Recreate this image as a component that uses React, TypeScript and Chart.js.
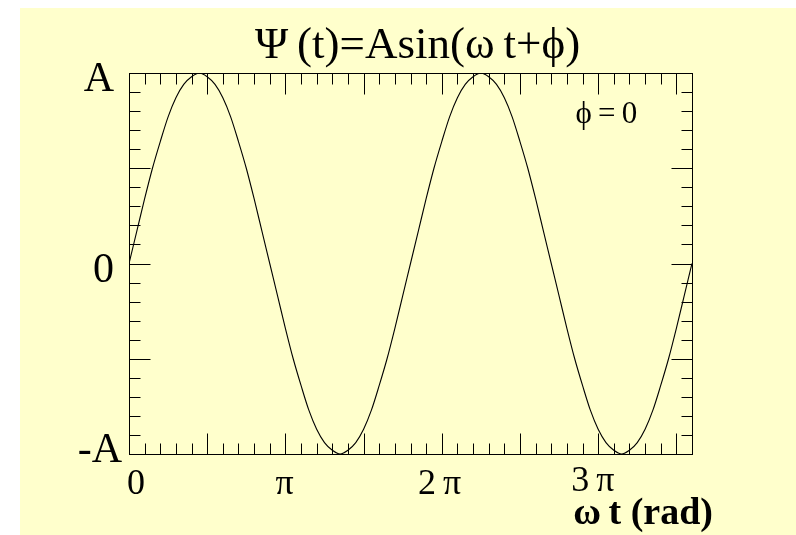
import React, { useEffect, useRef } from "react";
import { Chart, registerables } from "chart.js";

Chart.register(...registerables);

// Phase ωt in degrees, sampled every 10° over two full periods
const omegaT = [
  0, 10, 20, 30, 40, 50, 60, 70, 80, 90, 100, 110, 120, 130, 140, 150, 160, 170,
  180, 190, 200, 210, 220, 230, 240, 250, 260, 270, 280, 290, 300, 310, 320, 330, 340, 350,
  360, 370, 380, 390, 400, 410, 420, 430, 440, 450, 460, 470, 480, 490, 500, 510, 520, 530,
  540, 550, 560, 570, 580, 590, 600, 610, 620, 630, 640, 650, 660, 670, 680, 690, 700, 710,
  720,
];

// Ψ(t) in units of the amplitude A
const psi = [
  0, 0.17, 0.34, 0.5, 0.64, 0.77, 0.87, 0.94, 0.98, 1.0, 0.98, 0.94, 0.87, 0.77, 0.64, 0.5, 0.34, 0.17,
  0, -0.17, -0.34, -0.5, -0.64, -0.77, -0.87, -0.94, -0.98, -1.0, -0.98, -0.94, -0.87, -0.77, -0.64, -0.5, -0.34, -0.17,
  0, 0.17, 0.34, 0.5, 0.64, 0.77, 0.87, 0.94, 0.98, 1.0, 0.98, 0.94, 0.87, 0.77, 0.64, 0.5, 0.34, 0.17,
  0, -0.17, -0.34, -0.5, -0.64, -0.77, -0.87, -0.94, -0.98, -1.0, -0.98, -0.94, -0.87, -0.77, -0.64, -0.5, -0.34, -0.17,
  0,
];

// Axis ranges and tick spacing
const xRange = [0, 720];
const xMinorStep = 20;
const xMajorStep = 100;
const yRange = [-1, 1];
const yMinorDivs = 20; // 0.1 A per minor division
const yMajorEvery = 5; // a long tick every 0.5 A

// Hand-placed labels along ωt (in degrees) and on the amplitude axis
const xTickLabels = ["0", "π", "2\u2009π", "3\u2009π"];
const xTickLabelAt = [0, 190, 372, 568];
const yTickLabels = ["A", "0", "-A"];
const yTickValues = [1, 0, -1];

const titleText = "Ψ\u2009(t)=Asin(ω\u2009t+ϕ)";
const phaseText = "ϕ\u2009=\u20090";
const xAxisTitle = "ω\u2009t (rad)";

const SERIF = "'Liberation Serif', 'Times New Roman', Times, serif";
const PAPER = "#ffffcc";

const framePlugin = {
  id: "rootFrame",
  beforeDraw(chart: any) {
    const { ctx, width, height } = chart;
    ctx.save();
    ctx.fillStyle = PAPER;
    ctx.fillRect(0, 0, width, height);
    ctx.restore();
  },
  afterDraw(chart: any) {
    const { ctx, chartArea: a } = chart;
    const xs = chart.scales.x;
    const ys = chart.scales.y;
    const L = Math.round(a.left) + 0.5;
    const R = Math.round(a.right) + 0.5;
    const T = Math.round(a.top) + 0.5;
    const B = Math.round(a.bottom) + 0.5;
    const longTick = 21;
    const shortTick = 11;

    ctx.save();
    ctx.strokeStyle = "#000";
    ctx.lineWidth = 1;
    ctx.beginPath();
    // ticks along ωt, bottom and top edges
    for (let v = xRange[0]; v <= xRange[1]; v += xMinorStep) {
      const px = Math.round(xs.getPixelForValue(v)) + 0.5;
      const len = v % xMajorStep === 0 ? longTick : shortTick;
      ctx.moveTo(px, B);
      ctx.lineTo(px, B - len);
      ctx.moveTo(px, T);
      ctx.lineTo(px, T + len);
    }
    // ticks along the amplitude, left and right edges
    for (let k = 0; k <= yMinorDivs; k++) {
      const v = yRange[0] + ((yRange[1] - yRange[0]) * k) / yMinorDivs;
      const py = Math.round(ys.getPixelForValue(v)) + 0.5;
      const len = k % yMajorEvery === 0 ? longTick : shortTick;
      ctx.moveTo(L, py);
      ctx.lineTo(L + len, py);
      ctx.moveTo(R, py);
      ctx.lineTo(R - len, py);
    }
    ctx.stroke();
    ctx.strokeRect(L, T, R - L, B - T);

    ctx.fillStyle = "#000";

    // amplitude labels (the negative one sits a little higher and further right)
    ctx.font = `42px ${SERIF}`;
    ctx.textAlign = "right";
    ctx.textBaseline = "middle";
    yTickLabels.forEach((lab, i) => {
      const v = yTickValues[i];
      const py = ys.getPixelForValue(v);
      const dx = v < 0 ? 8 : 0;
      const dy = v < 0 ? -3 : 7;
      ctx.fillText(lab, a.left - 15 + dx, py + dy);
    });

    // phase labels
    ctx.font = `36px ${SERIF}`;
    ctx.textAlign = "left";
    ctx.textBaseline = "alphabetic";
    xTickLabels.forEach((lab, i) => {
      const px = xs.getPixelForValue(xTickLabelAt[i]);
      const dy = i === xTickLabels.length - 1 ? -3 : 0;
      ctx.fillText(lab, px - 2, a.bottom + 40 + dy);
    });

    // axis title
    ctx.font = `bold 38px ${SERIF}`;
    ctx.textAlign = "right";
    ctx.fillText(xAxisTitle, a.right + 21, a.bottom + 70);

    // phase annotation
    ctx.font = `31px ${SERIF}`;
    ctx.textAlign = "left";
    ctx.fillText(phaseText, xs.getPixelForValue(571), a.top + 50);

    // title
    ctx.font = `45px ${SERIF}`;
    ctx.textAlign = "center";
    ctx.fillText(titleText, (a.left + a.right) / 2 + 7, 50);

    ctx.restore();
  },
};

export default function App() {
  const canvasRef = useRef<HTMLCanvasElement | null>(null);

  useEffect(() => {
    if (!canvasRef.current) return;
    const chart = new Chart(canvasRef.current, {
      type: "line",
      data: {
        datasets: [
          {
            label: "Ψ(t)",
            data: omegaT.map((t, i) => ({ x: t, y: psi[i] })),
            borderColor: "#000",
            borderWidth: 1.1,
            pointRadius: 0,
            cubicInterpolationMode: "monotone",
            fill: false,
          },
        ],
      },
      options: {
        responsive: false,
        animation: false,
        devicePixelRatio: 1,
        layout: { padding: { left: 109, right: 104, top: 65, bottom: 81 } },
        plugins: {
          legend: { display: false },
          tooltip: { enabled: false },
          title: { display: false },
        },
        scales: {
          x: { type: "linear", min: xRange[0], max: xRange[1], display: false },
          y: { type: "linear", min: yRange[0], max: yRange[1], display: false },
        },
      },
      plugins: [framePlugin],
    });
    return () => chart.destroy();
  }, []);

  return (
    <div style={{ position: "fixed", left: 20, top: 8, width: 776, height: 527 }}>
      <canvas ref={canvasRef} width={776} height={527} style={{ display: "block" }} />
    </div>
  );
}
